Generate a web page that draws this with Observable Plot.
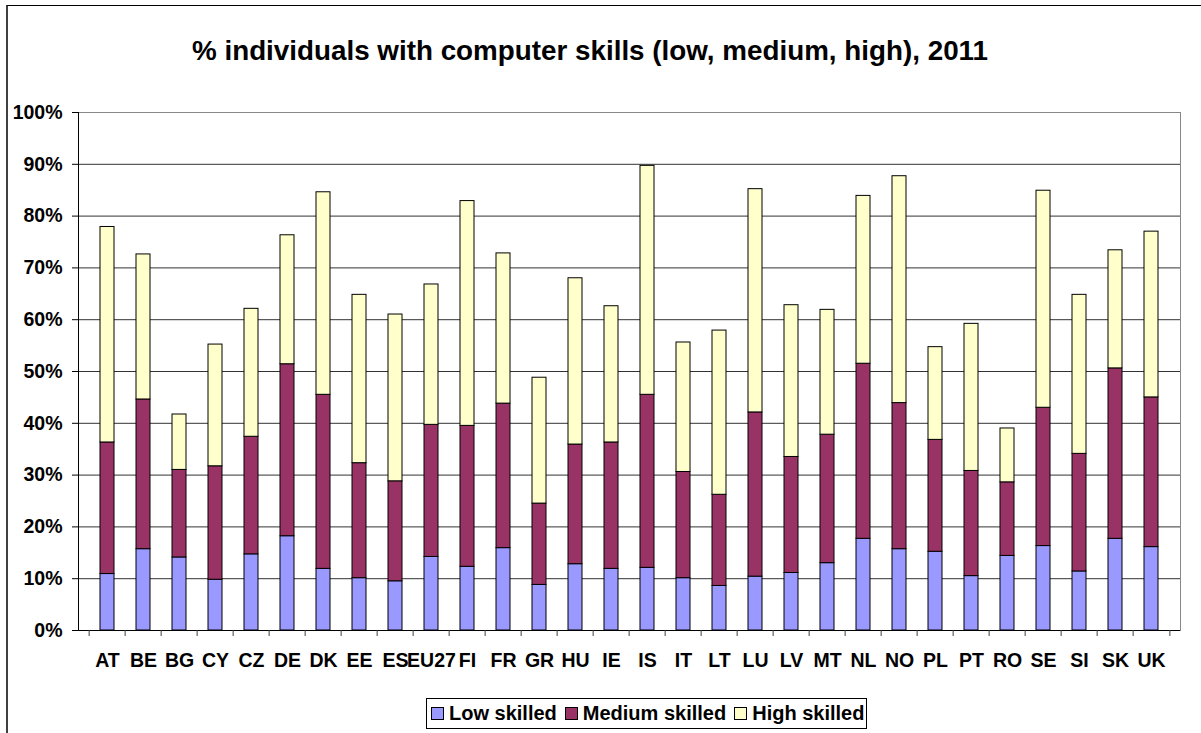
<!DOCTYPE html>
<html>
<head>
<meta charset="utf-8">
<script src="https://cdn.jsdelivr.net/npm/d3@7"></script>
<script src="https://cdn.jsdelivr.net/npm/@observablehq/plot@0.6"></script>
<style>
  html, body { margin: 0; padding: 0; background: #fff; }
  body { font-family: "Liberation Sans", Arial, sans-serif; }
  #wrap { position: relative; width: 1201px; height: 733px; overflow: hidden; background: #fff; }
  #frame { position: absolute; left: 6px; top: 5px; width: 1400px; height: 900px;
           border-left: 2px solid #404040; border-top: 1px solid #000; pointer-events: none; }
  #title { position: absolute; left: 0; top: 37px; width: 1180px; text-align: center;
           font-weight: bold; font-size: 27.8px; line-height: 28px; color: #000; white-space: nowrap; }
  #chart { position: absolute; left: 0; top: 100px; }
  #legend { position: absolute; left: 426px; top: 698px; width: 439px; height: 29px;
            border: 1px solid #000; box-sizing: content-box; display: flex; align-items: center;
            font-weight: bold; font-size: 20px; color: #000; white-space: nowrap; }
  .item { display: flex; align-items: center; }
  .sw { display: inline-block; width: 11px; height: 11px; border: 1px solid #000; margin-left: 8px; margin-right: 5px; }
  .item:first-child .sw { margin-left: 4px; }
</style>
</head>
<body>
<div id="wrap">
  <div id="title"></div>
  <div id="chart"></div>
  <div id="legend"></div>
  <div id="frame"></div>
</div>
<script>
const titleText = "% individuals with computer skills (low, medium, high), 2011";
const countries = ["AT","BE","BG","CY","CZ","DE","DK","EE","ES","EU27","FI","FR","GR","HU","IE","IS","IT","LT","LU","LV","MT","NL","NO","PL","PT","RO","SE","SI","SK","UK"];
const low    = [10.9,15.7,14.1, 9.8,14.7,18.2,11.9,10.1, 9.5,14.2,12.3,15.9, 8.8,12.8,11.9,12.1,10.1, 8.6,10.4,11.1,13.0,17.7,15.7,15.2,10.5,14.4,16.3,11.4,17.7,16.1];
const medium = [25.4,28.9,16.9,21.9,22.7,33.2,33.6,22.2,19.3,25.5,27.2,27.9,15.7,23.1,24.4,33.4,20.5,17.6,31.7,22.4,24.8,33.8,28.2,21.6,20.3,14.2,26.7,22.7,32.9,28.9];
const high   = [41.6,28.0,10.7,23.5,24.7,24.9,39.1,32.5,32.2,27.1,43.4,29.0,24.3,32.1,26.3,44.2,25.0,31.7,43.1,29.3,24.1,32.4,43.8,17.9,28.4,10.4,41.9,30.7,22.8,32.0];
const skills = ["Low skilled","Medium skilled","High skilled"];
const skillColors = ["#9999FF","#993366","#FFFFCC"];
const yTicks = [0,10,20,30,40,50,60,70,80,90,100];

const series = [low, medium, high];
const rows = countries.flatMap((c, i) => skills.map((s, k) => ({country: c, skill: s, value: series[k][i]})));

document.getElementById("title").textContent = titleText;

const W = 1201, ML = 78, MR = 21;
const halfStep = (W - ML - MR) / countries.length / 2;

const chart = Plot.plot({
  width: W, height: 580,
  marginLeft: ML, marginRight: MR, marginTop: 12, marginBottom: 50,
  style: {fontFamily: '"Liberation Sans", Arial, sans-serif', fontSize: "19.5px", fontWeight: "bold", color: "#000", background: "transparent"},
  x: {domain: countries, paddingInner: 0.6, paddingOuter: 0.3, align: 0.5},
  y: {domain: [0, 100]},
  color: {domain: skills, range: skillColors},
  marks: [
    Plot.frame({stroke: "#888"}),
    Plot.ruleY(yTicks.filter(v => v > 0 && v < 100), {stroke: "#333"}),
    Plot.barY(rows, {x: "country", y: "value", fill: "skill", stroke: "#000", strokeWidth: 1, order: skills}),
    Plot.ruleY([0], {stroke: "#000"}),
    Plot.frame({anchor: "left", stroke: "#000"}),
    Plot.axisY({ticks: yTicks, tickSize: 6, tickPadding: 10, tickFormat: d => d + "%", label: null}),
    Plot.axisX({tickSize: 0, tickPadding: 23, label: null}),
    Plot.axisX({ticks: countries, tickSize: 6, tickFormat: () => "", dx: -halfStep, stroke: "#444", label: null}),
    Plot.axisX({ticks: [countries[countries.length - 1]], tickSize: 6, tickFormat: () => "", dx: halfStep, stroke: "#444", label: null})
  ]
});
document.getElementById("chart").appendChild(chart);

const legend = document.getElementById("legend");
skills.forEach((s, k) => {
  const item = document.createElement("span");
  item.className = "item";
  const sw = document.createElement("span");
  sw.className = "sw";
  sw.style.background = skillColors[k];
  item.appendChild(sw);
  item.appendChild(document.createTextNode(s));
  legend.appendChild(item);
});
</script>
</body>
</html>
